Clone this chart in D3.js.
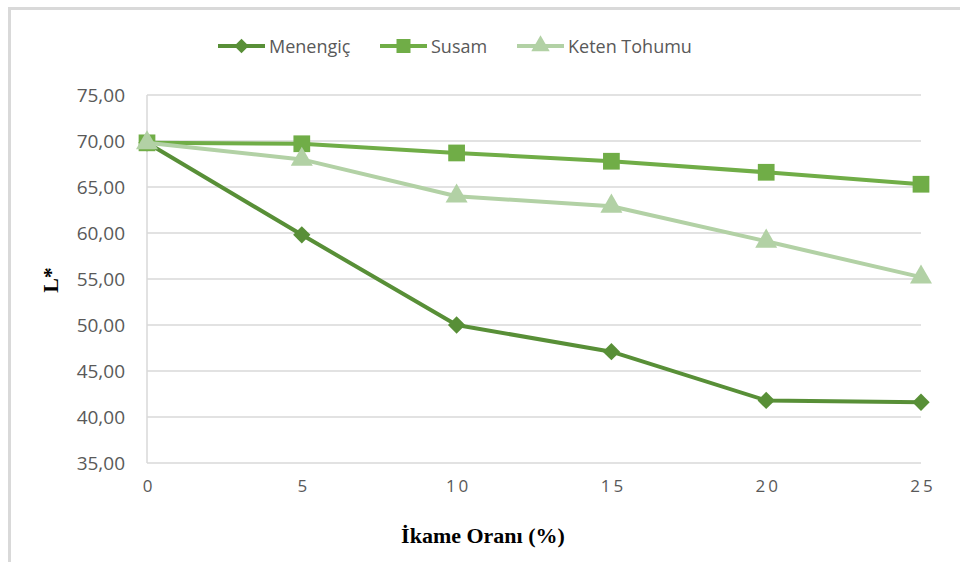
<!DOCTYPE html>
<html lang="tr">
<head>
<meta charset="utf-8">
<title>L* - İkame Oranı</title>
<style>
  body { margin: 0; background: #fff; }
  svg { display: block; }
</style>
</head>
<body>
<div id="chart"></div>
<script src="https://d3js.org/d3.v7.min.js"></script>
<script>
// veriler
var oranlar = [0, 5, 10, 15, 20, 25];
var menengic = [69.8, 59.8, 50.0, 47.1, 41.8, 41.6];
var susam = [69.8, 69.7, 68.7, 67.8, 66.6, 65.3];
var keten = [69.8, 68.0, 64.0, 62.9, 59.1, 55.2];
var yTicks = [35, 40, 45, 50, 55, 60, 65, 70, 75];
var seriAdlari = ["Menengiç", "Susam", "Keten Tohumu"];

var width = 960, height = 562;
var pLeft = 147, pRight = 921, pTop = 95, pBottom = 463;

var svg = d3.select("#chart").append("svg")
  .attr("width", width)
  .attr("height", height);

// çerçeve
svg.append("rect")
  .attr("x", 9.5).attr("y", 8.5)
  .attr("width", 1000).attr("height", 1000)
  .attr("fill", "none")
  .attr("stroke", "#d9d9d9")
  .attr("stroke-width", 3);

var x = d3.scaleLinear().domain([0, 25]).range([pLeft, pRight]);
var y = d3.scaleLinear().domain([35, 75]).range([pBottom, pTop]);

// ızgara
var gGrid = svg.append("g");
gGrid.selectAll("line")
  .data(yTicks)
  .enter()
  .append("line")
  .attr("x1", pLeft).attr("x2", pRight)
  .attr("y1", function(d) { return y(d); })
  .attr("y2", function(d) { return y(d); })
  .attr("stroke", "#d9d9d9")
  .attr("stroke-width", 1.5);

svg.append("line")
  .attr("x1", pLeft).attr("x2", pLeft)
  .attr("y1", pTop).attr("y2", pBottom)
  .attr("stroke", "#d9d9d9")
  .attr("stroke-width", 1.5);

// eksen yazıları
var yAxis = d3.axisLeft(y).tickValues(yTicks)
  .tickFormat(function(d) { return d3.format(".2f")(d).replace(".", ","); })
  .tickSize(0).tickPadding(22);
var gy = svg.append("g").attr("transform", "translate(" + pLeft + ",0)").call(yAxis);
gy.select(".domain").remove();
gy.selectAll("text")
  .attr("fill", "#595959")
  .style("font-family", "'Open Sans', sans-serif")
  .style("font-size", "19px");

var xAxis = d3.axisBottom(x).tickValues(oranlar).tickSize(0).tickPadding(17);
var gx = svg.append("g").attr("transform", "translate(0," + pBottom + ")").call(xAxis);
gx.select(".domain").remove();
gx.selectAll("text")
  .attr("fill", "#595959")
  .style("font-family", "'Open Sans', sans-serif")
  .style("font-size", "17px")
  .style("letter-spacing", "3px")
  .attr("dx", "1.5px");

svg.append("text")
  .attr("x", 483).attr("y", 543)
  .attr("text-anchor", "middle")
  .style("font-family", "'Liberation Serif', 'Times New Roman', serif")
  .style("font-weight", "bold")
  .style("font-size", "22px")
  .attr("fill", "#000")
  .text("İkame Oranı (%)");

svg.append("text")
  .attr("transform", "translate(58,280) rotate(-90)")
  .attr("text-anchor", "middle")
  .style("font-family", "'Liberation Serif', 'Times New Roman', serif")
  .style("font-weight", "bold")
  .style("font-size", "22px")
  .attr("fill", "#000")
  .text("L*");

// seriler
var seriler = [
  { ad: seriAdlari[0], degerler: menengic, renk: "#588f37", sekil: d3.symbolSquare, boyut: 150, aci: 45, lx: 218 },
  { ad: seriAdlari[1], degerler: susam, renk: "#70ad47", sekil: d3.symbolSquare, boyut: 280, aci: 0, lx: 380 },
  { ad: seriAdlari[2], degerler: keten, renk: "#b2d1a5", sekil: d3.symbolTriangle, boyut: 210, aci: 0, lx: 517 }
];

var line = d3.line()
  .x(function(d, i) { return x(oranlar[i]); })
  .y(function(d) { return y(d); });

var gSeri = svg.append("g");
seriler.forEach(function(s, k) {
  gSeri.append("path")
    .attr("d", line(s.degerler))
    .attr("fill", "none")
    .attr("stroke", s.renk)
    .attr("stroke-width", 4)
    .attr("stroke-linejoin", "round");
  gSeri.selectAll(".m" + k)
    .data(s.degerler)
    .enter()
    .append("path")
    .attr("class", "m" + k)
    .attr("d", d3.symbol().type(s.sekil).size(s.boyut))
    .attr("transform", function(d, i) {
      return "translate(" + x(oranlar[i]) + "," + y(d) + ") rotate(" + s.aci + ")";
    })
    .attr("fill", s.renk);
});

// lejant
var gLeg = svg.append("g");
seriler.forEach(function(s) {
  gLeg.append("line")
    .attr("x1", s.lx).attr("x2", s.lx + 47)
    .attr("y1", 46).attr("y2", 46)
    .attr("stroke", s.renk)
    .attr("stroke-width", 4);
  gLeg.append("path")
    .attr("d", d3.symbol().type(s.sekil).size(s.boyut * 0.7))
    .attr("transform", "translate(" + (s.lx + 23.5) + ",46) rotate(" + s.aci + ")")
    .attr("fill", s.renk);
  gLeg.append("text")
    .attr("x", s.lx + 51).attr("y", 52.5)
    .attr("fill", "#595959")
    .style("font-family", "'Open Sans', sans-serif")
    .style("font-size", "18px")
    .text(s.ad);
});
</script>
</body>
</html>
